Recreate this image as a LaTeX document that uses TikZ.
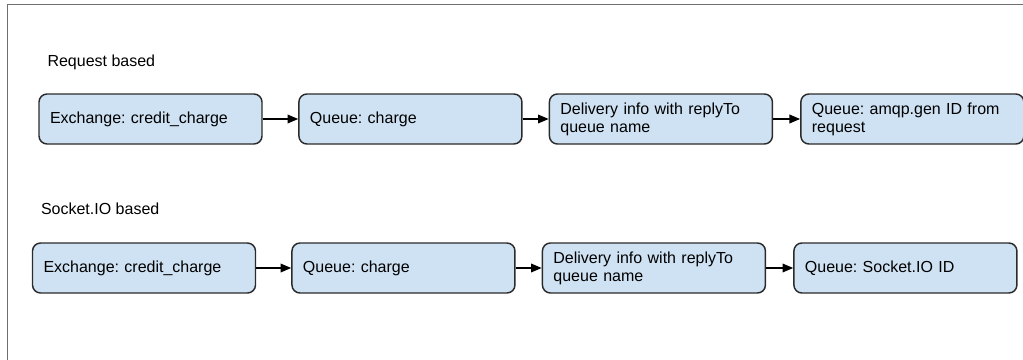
\documentclass[tikz,border=0pt]{standalone}
\usepackage{fontspec}
\setmainfont{Liberation Sans}
\usepackage{xcolor}
\usetikzlibrary{positioning,arrows.meta}
\definecolor{boxblue}{HTML}{CFE2F3}
\definecolor{boxline}{HTML}{2B2B2B}
\definecolor{framegray}{HTML}{6E6E6E}
\frenchspacing

\begin{document}
\begin{tikzpicture}[
    x=0.75pt,y=-0.75pt,
    box/.style={draw=boxline,fill=boxblue,line width=1.1pt,rounded corners=6pt,
                minimum height=37.5pt,minimum width=167.25pt,text width=150.75pt,
                inner xsep=8.25pt,align=left,font=\fontsize{12}{13.6}\selectfont},
    arr/.style={-{Triangle[length=8pt,width=6.5pt]},line width=1.1pt},
    lbl/.style={font=\fontsize{12}{14}\selectfont,inner sep=0pt,anchor=base west}
  ]
  \useasboundingbox (0,0) rectangle (1023,360);
  \draw[framegray,line width=1.3pt] (7.5,360) |- (1023,4.5);

  % Request based
  \node[box] (exch1) at (150.5,119) {Exchange: credit\_charge};
  \node[box,right=26.6pt of exch1] (queue1) {Queue: charge};
  \node[box,right=19.5pt of queue1] (deliv1) {Delivery info with replyTo\\queue name};
  \node[box,right=20.25pt of deliv1] (reply1) {Queue: amqp.gen ID from\\request};
  \draw[arr] (exch1) -- (queue1);
  \draw[arr] (queue1) -- (deliv1);
  \draw[arr] (deliv1) -- (reply1);
  \node[lbl] (reqlbl) at ([xshift=6.75pt,yshift=20.25pt]exch1.north west) {Request based};

  % Socket.IO based
  \node[box] (exch2) at (144,268) {Exchange: credit\_charge};
  \node[box,right=26.25pt of exch2] (queue2) {Queue: charge};
  \node[box,right=19.5pt of queue2] (deliv2) {Delivery info with replyTo\\queue name};
  \node[box,right=20.25pt of deliv2] (sockid) {Queue: Socket.IO ID};
  \draw[arr] (exch2) -- (queue2);
  \draw[arr] (queue2) -- (deliv2);
  \draw[arr] (deliv2) -- (sockid);
  \node[lbl] (socklbl) at ([xshift=6.75pt,yshift=21pt]exch2.north west) {Socket.IO based};
\end{tikzpicture}
\end{document}
